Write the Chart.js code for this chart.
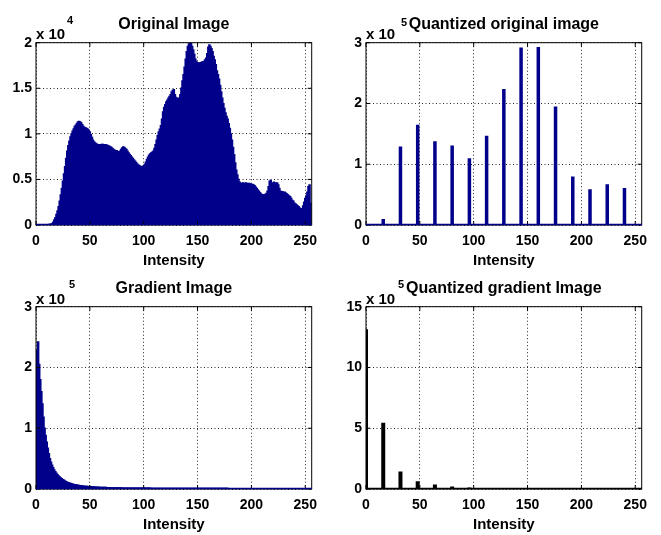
<!DOCTYPE html>
<html><head><meta charset="utf-8">
<script src="https://cdn.jsdelivr.net/npm/chart.js@4.4.0/dist/chart.umd.min.js"></script>
<style>
html,body{margin:0;padding:0;background:#fff;}
#wrap{position:relative;width:661px;height:535px;overflow:hidden;font-family:'Liberation Sans',Arial,sans-serif;font-weight:bold;color:#000;}
canvas{position:absolute;}
.exp{position:absolute;font-size:15px;line-height:15px;white-space:nowrap;}
.sup{position:absolute;font-size:11px;line-height:11px;white-space:nowrap;}
</style></head><body>
<div id="wrap">
<canvas id="c1" width="330" height="270" style="left:0;top:0"></canvas>
<canvas id="c2" width="331" height="270" style="left:330px;top:0"></canvas>
<canvas id="c3" width="330" height="271" style="left:0;top:264px"></canvas>
<canvas id="c4" width="331" height="271" style="left:330px;top:264px"></canvas>
<div class="exp" style="left:36px;top:26px">x 10</div><div class="sup" style="left:67px;top:15px">4</div>
<div class="exp" style="left:366px;top:26px">x 10</div><div class="sup" style="left:401px;top:16.5px">5</div>
<div class="exp" style="left:36px;top:291px">x 10</div><div class="sup" style="left:69px;top:278.5px">5</div>
<div class="exp" style="left:366px;top:291px">x 10</div><div class="sup" style="left:398px;top:278.5px">5</div>
</div>
<script>
// ---------- data ----------
const titles = ['Original Image', 'Quantized original image', 'Gradient Image', 'Quantized gradient Image'];
const xAxisLabel = 'Intensity';
const xTickLabels = ['0', '50', '100', '150', '200', '250'];
const origYTickLabels = ['0', '0.5', '1', '1.5', '2'];
const qOrigYTickLabels = ['0', '1', '2', '3'];
const gradYTickLabels = ['0', '1', '2', '3'];
const qGradYTickLabels = ['0', '5', '10', '15'];

const intensities = Array.from({length: 256}, (_, i) => i);
const origCounts = [
0,0,0,0,0,0,0,0,0,0,
0,0,20,50,80,150,300,550,800,1150,
1550,2000,2600,3300,4000,4800,5600,6400,7300,8100,
8700,9200,9650,10000,10300,10550,10800,10950,11150,11300,
11350,11300,11200,11000,10800,10700,10650,10600,10500,10400,
10200,9900,9600,9300,9100,9000,8900,8850,8800,8800,
8780,8850,8850,8800,8820,8780,8750,8700,8650,8600,
8500,8400,8300,8200,8150,8150,8050,8000,8100,8300,
8450,8550,8500,8400,8300,8100,7900,7750,7600,7450,
7300,7150,7000,6850,6700,6600,6500,6420,6350,6400,
6500,6650,6900,7200,7450,7650,7800,7900,8000,8100,
8400,8800,9300,9800,10200,10500,10900,11600,12400,12900,
13200,13500,13700,13900,14100,14300,14600,14750,14850,14300,
14000,13900,13850,13900,14300,15000,15800,16500,17300,18200,
19000,19600,19850,19950,19900,19600,19200,18700,18200,17900,
17800,17750,17750,17800,17850,17900,17950,18100,18300,18800,
19500,19750,19600,19350,19000,18500,18100,17600,16900,16500,
16000,15300,14600,13900,13300,12800,12300,11900,11600,11100,
10600,10000,9300,8500,7700,6800,6000,5500,5000,4700,
4550,4550,4600,4550,4550,4600,4550,4500,4550,4500,
4450,4450,4400,4300,4150,4000,3850,3700,3550,3400,
3300,3300,3300,3350,3450,3700,4200,4800,4900,4600,
4450,4700,4600,4500,4600,4400,4000,3700,3600,3650,
3550,3600,3500,3400,3300,3200,3100,2900,2700,2600,
2400,2300,2200,2100,2000,1850,1700,1800,2100,2500,
2900,3200,3600,4200,4400,2400];

const gradCounts = [
226000,228000,242000,205000,180000,160000,140000,118000,100000,88000,
77000,67000,58000,50000,44000,39000,35000,31500,28500,26000,
23500,21500,19800,18200,16800,15500,14300,13200,12200,11300,
10500,9800,9200,8600,8100,7600,7200,6800,6400,6100,
5800,5500,5250,5000,4800,4600,4400,4200,4050,3900,
3750,3600,3450,3350,3250,3150,3050,2950,2850,2750,
2700,2600,2550,2450,2400,2350,2300,2250,2150,2000,
1800,1750,1700,1690,1650,1620,1600,1590,1550,1530,
1500,1490,1460,1440,1430,1400,1380,1370,1340,1320,
1300,1290,1280,1260,1250,1240,1230,1210,1200,1190,
1180,1170,1160,1150,1150,1130,1120,1110,1100,1090,
1080,1070,1060,1050,1040,1030,1020,1010,1000,990,
980,970,960,950,940,930,920,910,900,895,
890,885,880,875,870,865,860,855,850,845,
840,835,830,825,820,815,810,805,800,795,
780,760,750,740,720,710,700,690,680,660,
650,640,630,620,610,600,590,580,570,560,
550,540,530,520,510,500,480,460,450,0,
0,0,0,0,0,0,0,0,0,0,
0,0,0,0,0,0,0,0,0,0,
0,0,0,0,0,0,0,0,0,0,
0,0,0,0,0,0,0,0,0,0,
0,0,0,0,0,0,0,0,0,0,
0,0,0,0,0,0,0,0,0,0,
0,0,0,0,0,0,0,0,0,0,
0,0,0,0,0,0];

const qOrigBins = [16,32,48,64,80,96,112,128,144,160,176,192,208,224,240];
const qOrigCounts = [10000,129000,165000,138000,131000,110000,147000,224000,292000,293000,195000,80000,59000,67000,61000];

const qGradBins = [0,16,32,48,64,80,96,112];
const qGradCounts = [1315000,545000,145000,63000,36000,20000,12000,8000];

// ---------- styling ----------
const NAVY = '#00008b';
const BLACK = '#000000';
const FONT = "'Liberation Sans', Arial, Helvetica, sans-serif";
Chart.defaults.font.family = FONT;
Chart.defaults.font.weight = 'bold';
Chart.defaults.font.size = 14;
Chart.defaults.color = '#000';

const framePlugin = {
  id: 'matlabFrame',
  afterDatasetsDraw(chart, args, opts) {
    const {ctx, chartArea: a, scales: {x, y}} = chart;
    ctx.save();
    ctx.strokeStyle = '#000';
    ctx.lineWidth = 1;
    ctx.strokeRect(a.left, a.top, a.width, a.height);
    const tl = 4;
    ctx.beginPath();
    x.ticks.forEach(t => {
      const px = x.getPixelForValue(t.value);
      ctx.moveTo(px, a.bottom); ctx.lineTo(px, a.bottom - tl);
      ctx.moveTo(px, a.top); ctx.lineTo(px, a.top + tl);
    });
    y.ticks.forEach(t => {
      const py = y.getPixelForValue(t.value);
      ctx.moveTo(a.left, py); ctx.lineTo(a.left + tl, py);
      ctx.moveTo(a.right, py); ctx.lineTo(a.right - tl, py);
    });
    ctx.stroke();
    const y0 = y.getPixelForValue(0);
    ctx.strokeStyle = opts.baseColor || '#000';
    ctx.lineWidth = 1.5;
    ctx.beginPath();
    ctx.moveTo(a.left, y0 - 0.5);
    ctx.lineTo(a.right, y0 - 0.5);
    ctx.stroke();
    ctx.restore();
  }
};

function makeChart(id, cfg) {
  const ctx = document.getElementById(id);
  return new Chart(ctx, {
    type: 'bar',
    data: {
      datasets: [{
        data: cfg.bins.map((b, i) => ({x: b, y: cfg.counts[i]})),
        backgroundColor: cfg.color,
        borderWidth: 0,
        barPercentage: 1,
        categoryPercentage: 1,
        barThickness: cfg.barThickness,
        inflateAmount: cfg.inflate,
        clip: 0
      }]
    },
    plugins: [framePlugin],
    options: {
      responsive: false,
      animation: false,
      devicePixelRatio: 1,
      layout: {padding: {left: 0, top: 0, right: cfg.padRight, bottom: cfg.padBottom}},
      plugins: {
        legend: {display: false},
        tooltip: {enabled: false},
        title: {
          display: true, text: cfg.title, fullSize: false,
          font: {size: 16, weight: 'bold', family: FONT, lineHeight: 1.2},
          color: '#000',
          padding: {top: 15, bottom: 8.5}
        },
        matlabFrame: {baseColor: cfg.color}
      },
      scales: {
        x: {
          type: 'linear', min: 0, max: 256, offset: false,
          grid: {offset: false, drawTicks: false, color: 'rgba(0,0,0,0.85)', lineWidth: 1},
          border: {display: false, dash: [1, 2.5]},
          ticks: {stepSize: 50, includeBounds: false, padding: 7.6, maxRotation: 0,
                  font: {size: 14, weight: 'bold'},
                  callback: (v, i) => xTickLabels[i]},
          title: {display: true, text: xAxisLabel, font: {size: 15, weight: 'bold', lineHeight: 1.2},
                  padding: {top: 0, bottom: 0}},
          afterFit: s => { s.height = 45; }
        },
        y: {
          type: 'linear', min: 0, max: cfg.yMax,
          grid: {drawTicks: false, color: 'rgba(0,0,0,0.85)', lineWidth: 1},
          border: {display: false, dash: [1, 2.5]},
          ticks: {stepSize: cfg.yStep, padding: 4, font: {size: 14, weight: 'bold'},
                  callback: (v, i) => cfg.yLabels[i]},
          afterFit: s => { s.width = 36; }
        }
      }
    }
  });
}

makeChart('c1', {title: titles[0], bins: intensities, counts: origCounts, color: NAVY, inflate: 0.7,
  yMax: 20000, yStep: 5000, yLabels: origYTickLabels, padRight: 18.3, padBottom: 0});
makeChart('c2', {title: titles[1], bins: qOrigBins, counts: qOrigCounts, color: NAVY, barThickness: 3.5, inflate: 0,
  yMax: 300000, yStep: 100000, yLabels: qOrigYTickLabels, padRight: 19.3, padBottom: 0});
makeChart('c3', {title: titles[2], bins: intensities, counts: gradCounts, color: NAVY, inflate: 0.7,
  yMax: 300000, yStep: 100000, yLabels: gradYTickLabels, padRight: 18.3, padBottom: 1});
makeChart('c4', {title: titles[3], bins: qGradBins, counts: qGradCounts, color: BLACK, barThickness: 4, inflate: 0,
  yMax: 1500000, yStep: 500000, yLabels: qGradYTickLabels, padRight: 19.3, padBottom: 1});
</script>
</body></html>
